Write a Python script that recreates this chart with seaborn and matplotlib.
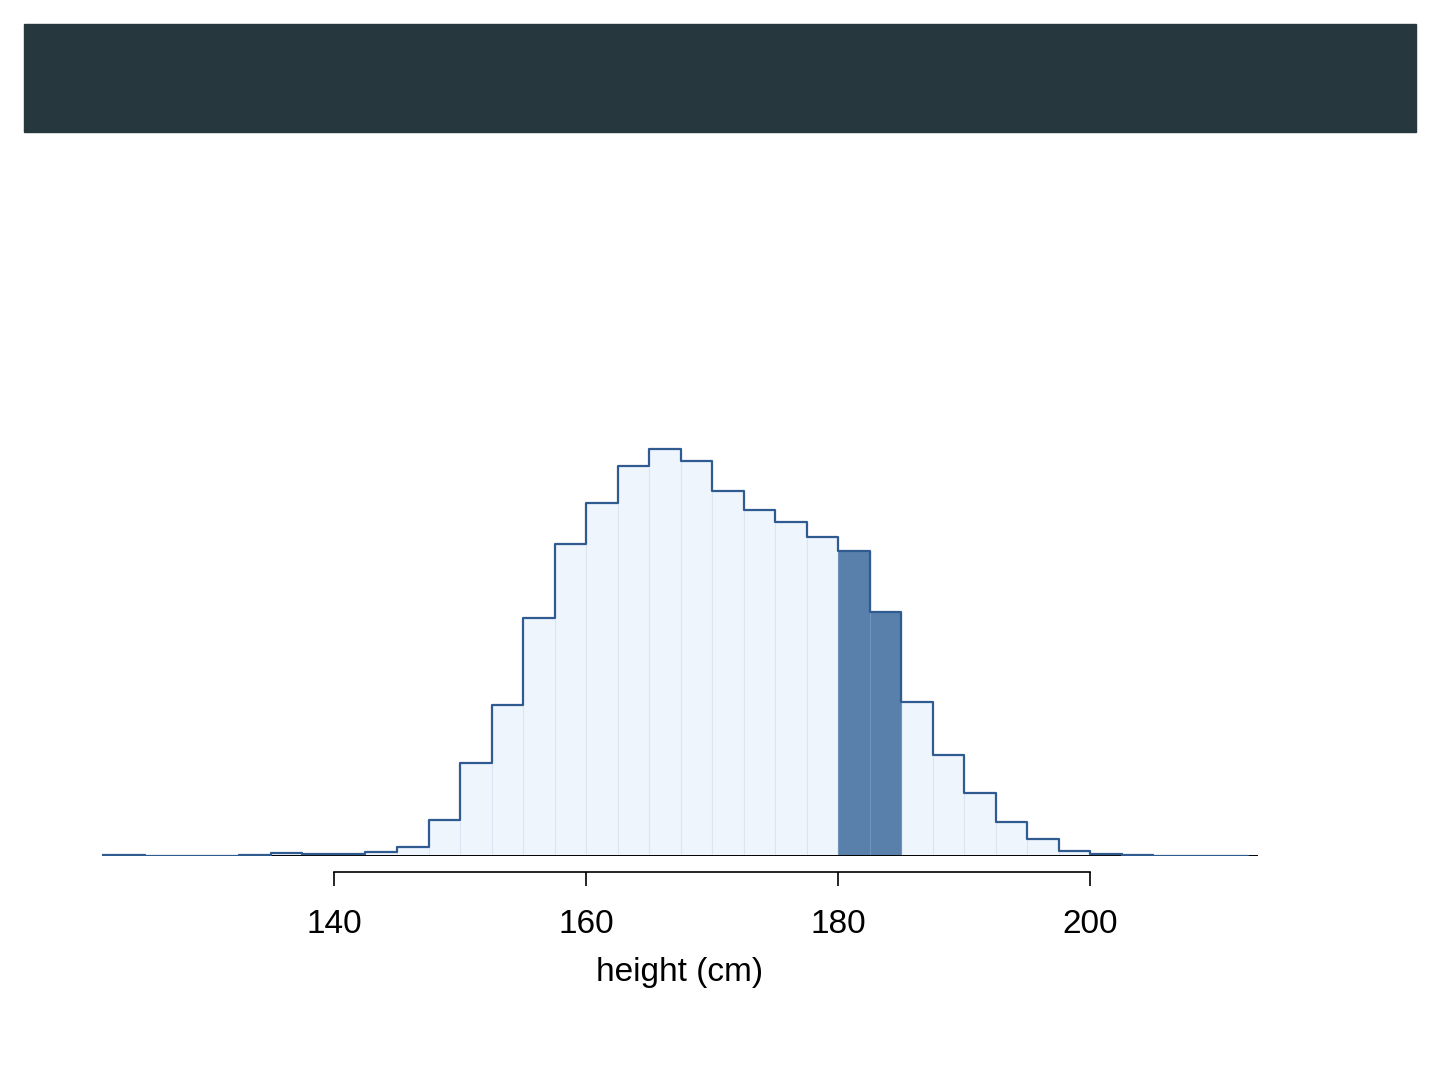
import numpy as np
import pandas as pd
import matplotlib
matplotlib.use("Agg")
import matplotlib.pyplot as plt
import seaborn as sns
from matplotlib.patches import Rectangle

sns.set_style("white")
plt.rcParams['font.family'] = ['Liberation Sans', 'DejaVu Sans']

# bins of 2.5 cm from 120 to 212.5, counts (relative heights)
bin_start, bin_width = 120.0, 2.5
counts = [1.3, 1.3, 0.5, 0.5, 0.5, 1.0, 3.3, 2.3, 2.3, 3.7,
          9.3, 36, 93, 151, 238, 312, 353, 390, 407, 395,
          365, 346, 334, 319, 305, 244, 154, 101, 63, 34,
          17, 5.5, 2.5, 1.0, 0.5, 0.5, 0.0]
highlight = (180, 185)

bin_end = bin_start + bin_width * len(counts)
heights = bin_start + bin_width * (np.arange(len(counts)) + 0.5)
df = pd.DataFrame({'height': heights, 'count': counts})
df_hl = df[(df['height'] > highlight[0]) & (df['height'] < highlight[1])]
hist_kw = dict(x='height', weights='count', binwidth=bin_width,
               binrange=(bin_start, bin_end))

fig = plt.figure(figsize=(14.4, 10.8), dpi=100)

# dark header band
fig.patches.append(Rectangle((24 / 1440, 1 - 132 / 1080), 1392 / 1440, 108 / 1080,
                             transform=fig.transFigure, color='#26373d', zorder=0))

ax = fig.add_axes([102 / 1440, (1080 - 856) / 1080, 1156 / 1440, 656 / 1080])

sns.histplot(data=df, ax=ax, color='#eef5fd', alpha=1,
             edgecolor='#dbe6f2', linewidth=0.8, **hist_kw)
sns.histplot(data=df_hl, ax=ax, color='#5880ab', alpha=1,
             edgecolor='#6f93bb', linewidth=0.8, **hist_kw)
ax.axhline(0, color='black', lw=1.4, zorder=2)
sns.histplot(data=df, ax=ax, element='step', fill=False,
             color='#2f5b90', linewidth=1.6, zorder=3, **hist_kw)

ax.set_xlim(121.6, 213.3)
ax.set_ylim(0, 656)
ax.set_xticks([140, 160, 180, 200])
ax.set_yticks([])
ax.set_ylabel('')
ax.set_xlabel('height (cm)', fontsize=24, labelpad=12, color='black')
ax.tick_params(axis='x', labelsize=24, length=10, width=1.2, direction='out',
               bottom=True, pad=17, colors='black')
sns.despine(ax=ax, left=True, offset=11.5, trim=True)
ax.spines['bottom'].set_linewidth(1.2)
ax.spines['bottom'].set_color('black')

plt.savefig('out.png', dpi=100)
plt.close()
